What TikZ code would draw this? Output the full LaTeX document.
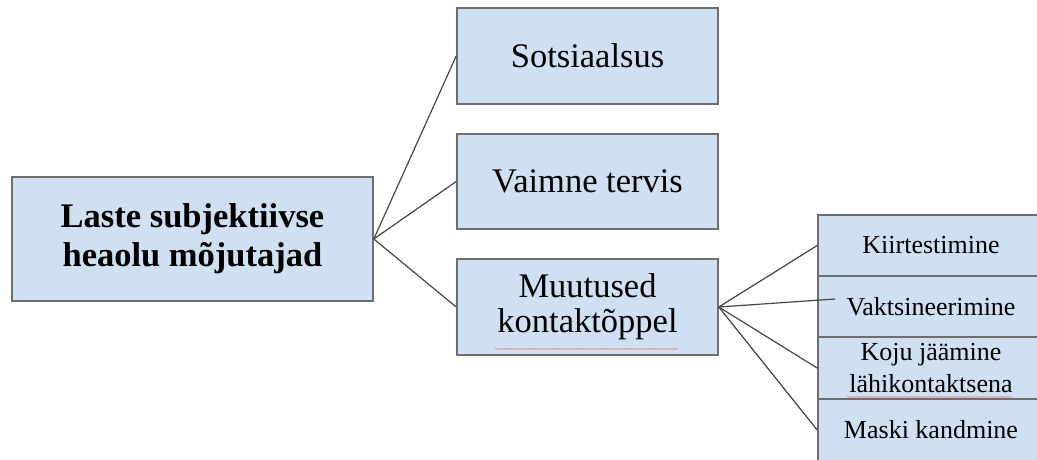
\documentclass[tikz,border=0pt]{standalone}
\usepackage{fontspec}
\setmainfont{Liberation Serif}
\usetikzlibrary{decorations.pathmorphing}
\definecolor{boxfill}{RGB}{207,224,242}
\definecolor{boxline}{RGB}{110,110,110}
\definecolor{conline}{RGB}{70,70,70}
\definecolor{squig}{RGB}{235,130,130}
\begin{document}
\begin{tikzpicture}[x=1pt,y=-1pt,
  box/.style={draw=boxline,fill=boxfill,line width=1.6pt,inner sep=0pt,align=center},
  bigtext/.style={font=\fontsize{34.5}{38}\selectfont},
  smalltext/.style={font=\fontsize{26}{31}\selectfont},
  conn/.style={draw=conline,line width=1.2pt},
  wavy/.style={draw=squig,line width=0.6pt,decorate,decoration={snake,amplitude=0.6pt,segment length=3pt}}]
\useasboundingbox (0,0) rectangle (1037,459);
\clip (0,0) rectangle (1037,459);
\node[box,minimum width=361pt,minimum height=124pt,font=\fontsize{34.5}{39}\selectfont\bfseries] (main) at (192.5,239) {Laste subjektiivse\\heaolu mõjutajad};
\node[box,bigtext,minimum width=261pt,minimum height=96pt] (sots) at (587.5,56) {Sotsiaalsus};
\node[box,bigtext,minimum width=261pt,minimum height=95pt] (vaim) at (587.5,181.5) {Vaimne tervis};
\node[box,minimum width=261pt,minimum height=96pt,font=\fontsize{34.5}{35}\selectfont] (muut) at (587.5,307) {Muutused\\kontaktõppel};
\node[box,smalltext,minimum width=226pt,minimum height=61pt] (kiir) at (931,245.5) {Kiirtestimine};
\node[box,smalltext,minimum width=226pt,minimum height=61pt] (vakt) at (931,306.5) {Vaktsineerimine};
\node[box,minimum width=226pt,minimum height=62pt,font=\fontsize{26}{32}\selectfont] (koju) at (931,368) {Koju jäämine\\lähikontaktsena};
\node[box,smalltext,minimum width=226pt,minimum height=62pt] (mask) at (931,430) {Maski kandmine};
\coordinate (vaktend) at (835,299);
\draw[conn] (main.east) -- (sots.west);
\draw[conn] (main.east) -- (vaim.west);
\draw[conn] (main.east) -- (muut.west);
\draw[conn] (muut.east) -- (kiir.west);
\draw[conn] (muut.east) -- (vaktend);
\draw[conn] (muut.east) -- (koju.west);
\draw[conn] (muut.east) -- (mask.west);
\draw[wavy] (495,349) -- (678,349);
\draw[wavy] (847,397) -- (1012,397);
\end{tikzpicture}
\end{document}
